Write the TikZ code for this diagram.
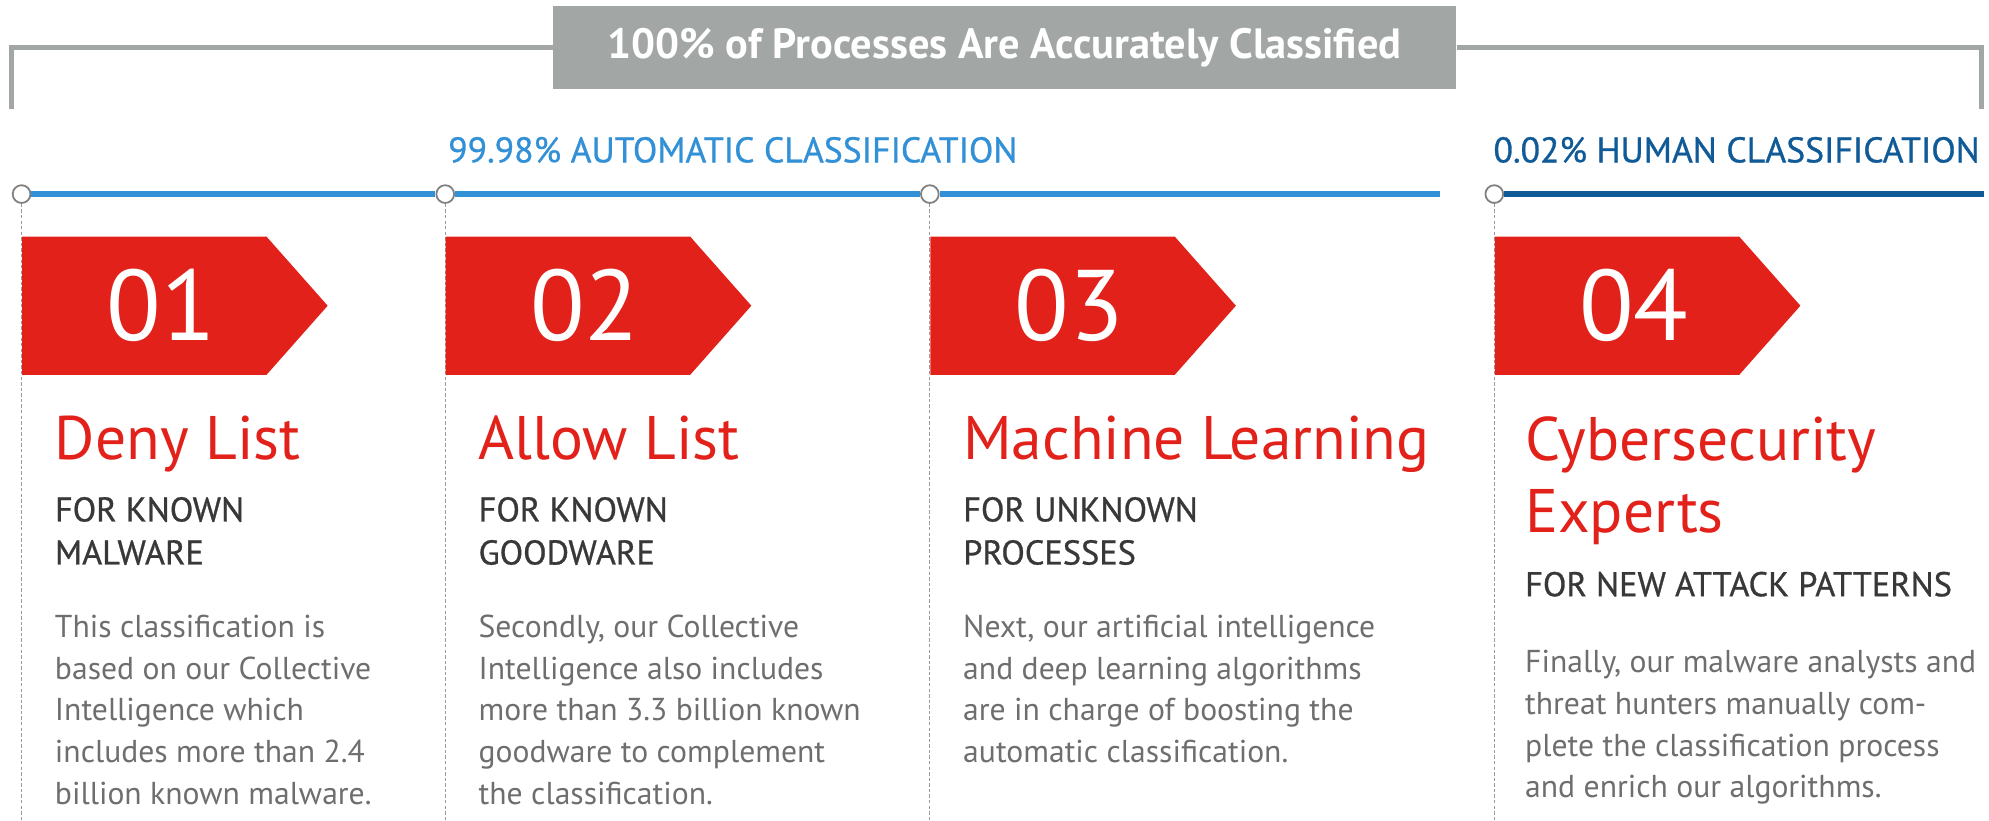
\documentclass[tikz,border=0pt]{standalone}
\usepackage{fontspec}
\setmainfont{PT Sans}
\newfontfamily\semifont[FakeBold=0.8]{PT Sans}
\usetikzlibrary{shapes.symbols,positioning}
\definecolor{flagred}{HTML}{E2211A}
\definecolor{headgray}{HTML}{A2A7A6}
\definecolor{autoblue}{HTML}{3290D6}
\definecolor{humanblue}{HTML}{0F5A97}
\definecolor{subgray}{HTML}{383838}
\definecolor{bodygray}{HTML}{6E6E6E}
\definecolor{guidegray}{HTML}{9A9A9A}
\tikzset
{
	headbox/.style   = {rectangle, fill=headgray, text=white, minimum width=14.24cm, minimum height=1.3cm, inner sep=0pt, font=\fontsize{19}{22}\selectfont\bfseries},
	bracket/.style   = {draw=headgray, line width=2.6pt},
	autolabel/.style = {inner sep=0pt, text=autoblue, font=\fontsize{16}{19}\selectfont\semifont},
	humanlabel/.style= {inner sep=0pt, text=humanblue, font=\fontsize{16}{19}\selectfont\semifont},
	autoline/.style  = {draw=autoblue, line width=2.6pt},
	humanline/.style = {draw=humanblue, line width=2.6pt},
	dot/.style       = {circle, draw=gray, fill=white, line width=0.8pt, minimum size=0.28cm, inner sep=0pt},
	guide/.style     = {draw=guidegray, line width=0.6pt, dash pattern=on 1.5pt off 1pt},
	flag/.style      = {signal, signal to=east, signal pointer angle=97, fill=flagred, minimum width=4.82cm, minimum height=2.18cm, inner sep=0pt, anchor=west},
	flagnum/.style   = {text=white, inner sep=0pt, font=\fontsize{45}{50}\selectfont},
	steptitle/.style = {text=flagred, inner sep=0pt, anchor=base west, align=left, font=\fontsize{27.6}{32.3}\selectfont},
	stepsub/.style   = {text=subgray, inner sep=0pt, anchor=base west, align=left, font=\fontsize{15.4}{19.3}\selectfont\semifont},
	stepbody/.style  = {text=bodygray, inner sep=0pt, anchor=base west, align=left, font=\fontsize{14.2}{18.7}\selectfont}
}

\begin{document}
\begin{tikzpicture}[x=0.02cm, y=-0.02cm]
\useasboundingbox (0,0) rectangle (1568,647);

% header with bracket
\node[headbox] (head) at (792,37.5) {100\% of Processes Are Accurately Classified};
\coordinate (bl) at (9,86);
\coordinate (br) at (1562,86);
\draw[bracket] (head.west) -| (bl);
\draw[bracket] (head.east) -| (br);

% classification labels
\node[autolabel, anchor=base west] (autotxt) at (353,128) {99.98\% AUTOMATIC CLASSIFICATION};
\node[humanlabel, anchor=base east] (humantxt) at (1561,128) {0.02\% HUMAN CLASSIFICATION};

% timeline
\node[dot] (d1) at (17,153) {};
\node[dot] (d2) at (351,153) {};
\node[dot] (d3) at (733,153) {};
\node[dot] (d4) at (1178,153) {};
\coordinate (autoend) at (1135,153);
\coordinate (humanend) at (1564,153);
\draw[autoline] (d1) -- (d2);
\draw[autoline] (d2) -- (d3);
\draw[autoline] (d3) -- (autoend);
\draw[humanline] (d4) -- (humanend);

% guides
\coordinate (g1) at (17,647);
\coordinate (g2) at (351,647);
\coordinate (g3) at (733,647);
\coordinate (g4) at (1178,647);
\draw[guide] (d1) -- (g1);
\draw[guide] (d2) -- (g2);
\draw[guide] (d3) -- (g3);
\draw[guide] (d4) -- (g4);

% flags
\node[flag] (f1) at (17,241) {};
\node[flag] (f2) at (351,241) {};
\node[flag] (f3) at (733,241) {};
\node[flag] (f4) at (1178,241) {};
\node[flagnum] (n1) at (127,241) {01};
\node[flagnum] (n2) at (461,241) {02};
\node[flagnum] (n3) at (843,241) {03};
\node[flagnum] (n4) at (1288,241) {04};

% step 1 (base = last line)
\node[steptitle] (t1) at (43,362) {Deny List};
\node[stepsub] (s1) at (43,445) {FOR KNOWN\\MALWARE};
\node[stepbody] (b1) at (43,634) {This classification is\\based on our Collective\\Intelligence which\\includes more than 2.4\\billion known malware.};

% step 2
\node[steptitle] (t2) at (377,362) {Allow List};
\node[stepsub] (s2) at (377,445) {FOR KNOWN\\GOODWARE};
\node[stepbody] (b2) at (377,634) {Secondly, our Collective\\Intelligence also includes\\more than 3.3 billion known\\goodware to complement\\the classification.};

% step 3
\node[steptitle] (t3) at (759,362) {Machine Learning};
\node[stepsub] (s3) at (759,445) {FOR UNKNOWN\\PROCESSES};
\node[stepbody] (b3) at (759,601) {Next, our artificial intelligence\\and deep learning algorithms\\are in charge of boosting the\\automatic classification.};

% step 4
\node[steptitle] (t4) at (1202,420) {Cybersecurity\\Experts};
\node[stepsub] (s4) at (1202,470) {FOR NEW ATTACK PATTERNS};
\node[stepbody] (b4) at (1202,629) {Finally, our malware analysts and\\threat hunters manually com-\\plete the classification process\\and enrich our algorithms.};
\end{tikzpicture}
\end{document}
